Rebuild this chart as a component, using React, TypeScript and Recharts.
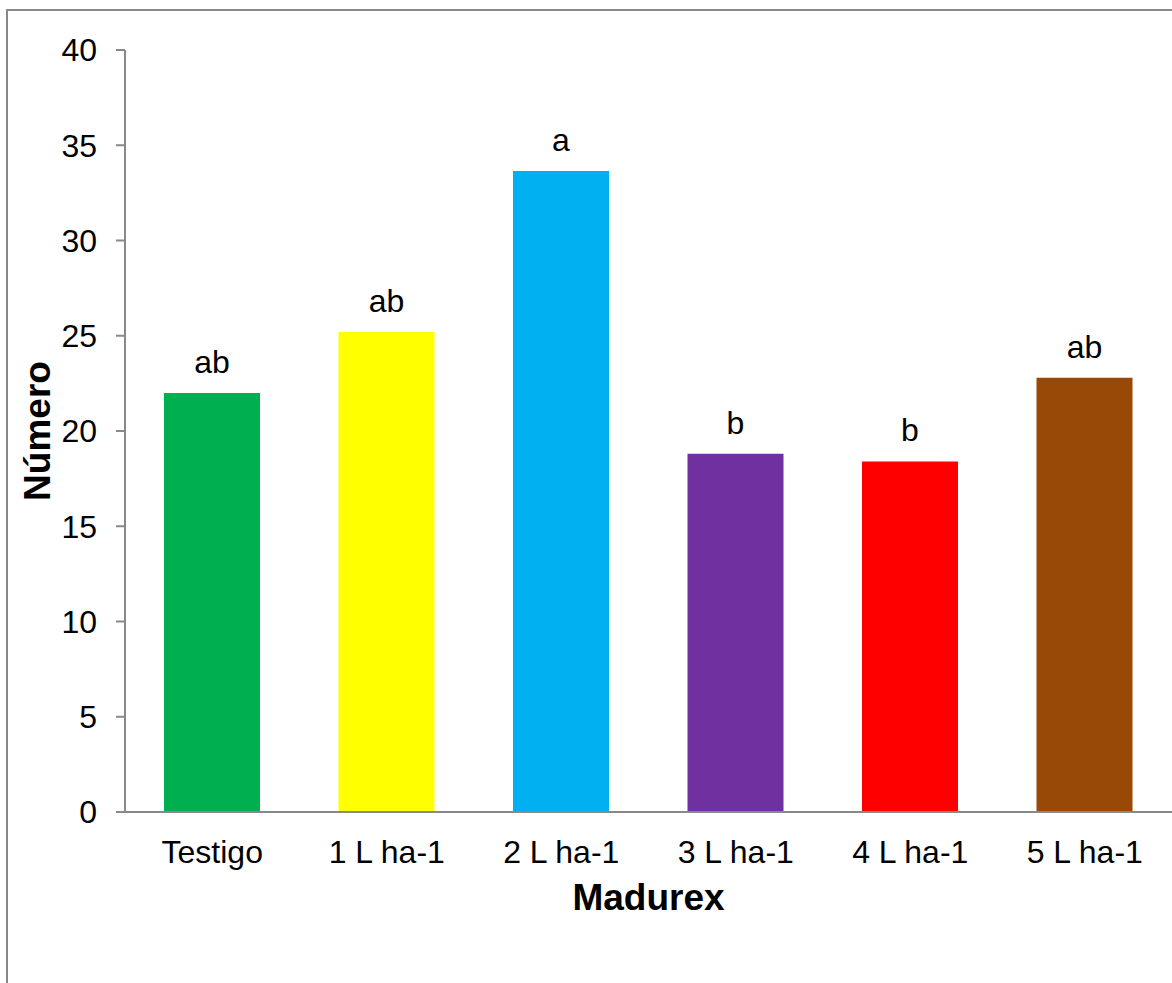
import { BarChart, Bar, XAxis, YAxis, Cell, LabelList, Label } from "recharts";

const CATEGORIES = ["Testigo", "1 L ha-1", "2 L ha-1", "3 L ha-1", "4 L ha-1", "5 L ha-1"];
const VALUES = [22.0, 25.2, 33.65, 18.8, 18.4, 22.8];
const LETTERS = ["ab", "ab", "a", "b", "b", "ab"];
const COLORS = ["#00B050", "#FFFF00", "#00B0F0", "#7030A0", "#FF0000", "#984807"];
const Y_TICKS = [0, 5, 10, 15, 20, 25, 30, 35, 40];

const AXIS_GREY = "#898989";
const FONT = "'Liberation Sans', Arial, sans-serif";

const data = CATEGORIES.map((name, i) => ({ name, value: VALUES[i], letter: LETTERS[i] }));

export default function App() {
  return (
    <div
      style={{
        position: "absolute",
        top: 0,
        left: 0,
        width: 1172,
        height: 983,
        overflow: "hidden",
        background: "#fff",
        fontFamily: FONT,
      }}
    >
      {/* chart frame, cut off on the right and bottom */}
      <div
        style={{
          position: "absolute",
          left: 6,
          top: 9,
          width: 1400,
          height: 1200,
          borderTop: `2px solid ${AXIS_GREY}`,
          borderLeft: `2px solid ${AXIS_GREY}`,
        }}
      />
      <div style={{ position: "absolute", top: 0, left: 0 }}>
        <BarChart
          width={1172}
          height={983}
          data={data}
          margin={{ top: 50, right: 0, left: 65, bottom: 71 }}
        >
          <XAxis
            dataKey="name"
            stroke={AXIS_GREY}
            strokeWidth={2}
            tickLine={false}
            tickSize={0}
            tickMargin={28}
            height={100}
            tick={{ fill: "#000", fontSize: 32, fontFamily: FONT }}
            interval={0}
          >
            <Label
              value="Madurex"
              position="insideBottom"
              offset={0}
              dy={-2}
              style={{ fill: "#000", fontSize: 37, fontWeight: "bold", fontFamily: FONT }}
            />
          </XAxis>
          <YAxis
            domain={[0, 40]}
            ticks={Y_TICKS}
            width={60}
            stroke={AXIS_GREY}
            strokeWidth={2}
            tickSize={9}
            tickMargin={19}
            tick={{ fill: "#000", fontSize: 32, fontFamily: FONT }}
            interval={0}
          >
            <Label
              value="Número"
              angle={-90}
              position="center"
              dx={-58}
              style={{ fill: "#000", fontSize: 37, fontWeight: "bold", fontFamily: FONT, textAnchor: "middle" }}
            />
          </YAxis>
          <Bar dataKey="value" barSize={96} isAnimationActive={false}>
            {data.map((d, i) => (
              <Cell key={d.name} fill={COLORS[i]} />
            ))}
            <LabelList
              dataKey="letter"
              position="top"
              offset={20}
              style={{ fill: "#000", fontSize: 32, fontFamily: FONT }}
            />
          </Bar>
        </BarChart>
      </div>
    </div>
  );
}
